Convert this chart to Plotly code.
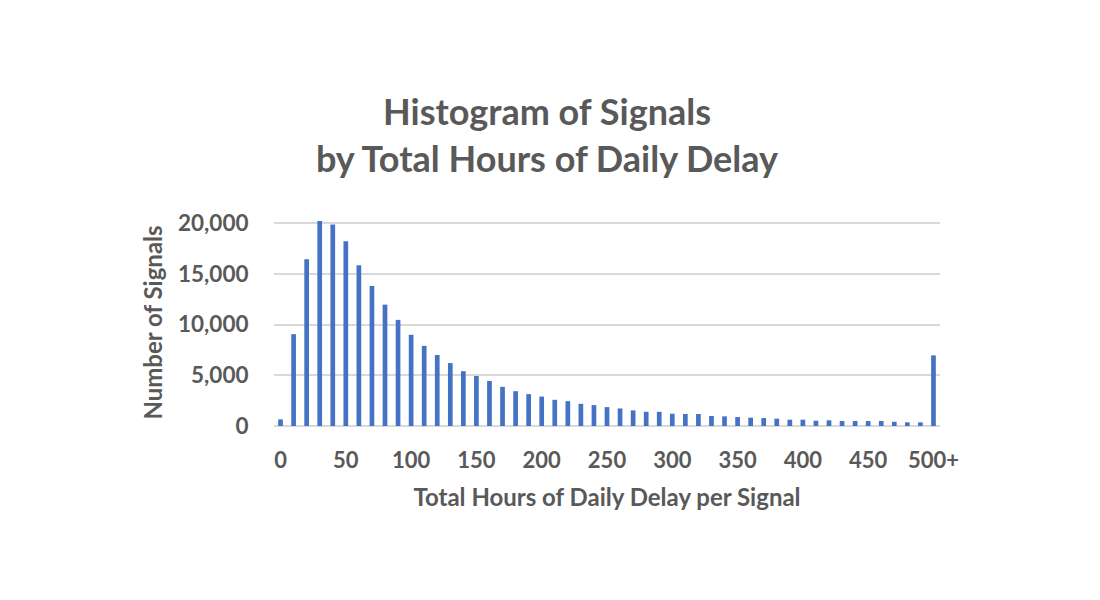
import plotly.graph_objects as go

categories = [str(v) for v in range(0, 500, 10)] + ["500+"]
counts = [650, 9050, 16440, 20200, 19870, 18200, 15850, 13800, 11960, 10460,
          8990, 7900, 7000, 6200, 5400, 4930, 4440, 3860, 3430, 3140,
          2900, 2580, 2450, 2190, 2060, 1860, 1730, 1540, 1400, 1400,
          1210, 1180, 1180, 980, 950, 880, 820, 780, 720, 620,
          620, 520, 560, 490, 490, 490, 490, 420, 360, 360,
          6960]
tick_labels = ["0", "50", "100", "150", "200", "250", "300", "350", "400", "450", "500+"]
tick_vals = ["0", "50", "100", "150", "200", "250", "300", "350", "400", "450", "500+"]
y_ticks = [0, 5000, 10000, 15000, 20000]

FONT = "Lato"
GREY = "#595959"

fig = go.Figure(go.Bar(x=categories, y=counts, marker_color="#4472C4", marker_line_width=0))

fig.update_layout(
    width=1100, height=600,
    paper_bgcolor="white", plot_bgcolor="white",
    margin=dict(l=266, r=168, t=211, b=182),
    bargap=0.64,
    showlegend=False,
    font=dict(family=FONT, color=GREY),
    title=dict(
        text="Histogram of Signals<br>by Total Hours of Daily Delay",
        x=0.490, xref="container", xanchor="center",
        y=0.805, yref="container", yanchor="middle",
        font=dict(family=FONT, size=36, color=GREY, weight="bold"),
    ),
)
fig.update_xaxes(
    type="category",
    tickmode="array", tickvals=tick_vals, ticktext=tick_labels,
    ticks="outside", ticklen=15, tickcolor="rgba(0,0,0,0)",
    tickfont=dict(family=FONT, size=22, color=GREY, weight="bold"),
    showgrid=False, showline=False, zeroline=False,
    title=dict(text="Total Hours of Daily Delay per Signal", standoff=16,
               font=dict(family=FONT, size=24, color=GREY, weight="bold")),
)
fig.update_yaxes(
    range=[0, 20400],
    tickmode="array", tickvals=y_ticks, tickformat=",",
    ticks="outside", ticklen=20, tickcolor="rgba(0,0,0,0)",
    tickfont=dict(family=FONT, size=22.5, color=GREY, weight="bold"),
    showgrid=True, gridcolor="#d9d9d9", gridwidth=1.5,
    zeroline=True, zerolinecolor="#d9d9d9", zerolinewidth=1.5,
    title=dict(text="Number of Signals", standoff=8,
               font=dict(family=FONT, size=24, color=GREY, weight="bold")),
)

fig.write_html("out.html")
